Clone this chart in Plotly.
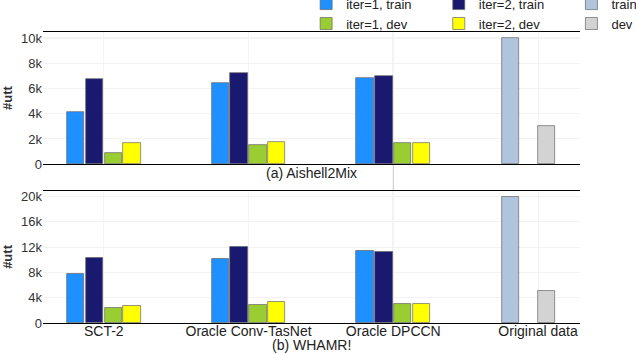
import plotly.graph_objects as go
from plotly.subplots import make_subplots

methods = ["SCT-2", "Oracle Conv-TasNet", "Oracle DPCCN"]
orig_label = ["Original data"]

# (a) Aishell2Mix
a_iter1_train = [4150, 6480, 6880]
a_iter2_train = [6800, 7270, 7000]
a_iter1_dev = [850, 1500, 1640]
a_iter2_dev = [1640, 1770, 1640]
a_orig_train = [10000]
a_orig_dev = [3000]

# (b) WHAMR!
b_iter1_train = [7700, 10170, 11430]
b_iter2_train = [10270, 12070, 11280]
b_iter1_dev = [2370, 2900, 3100]
b_iter2_dev = [2750, 3270, 3100]
b_orig_train = [20000]
b_orig_dev = [5100]

a_ticks = [0, 2000, 4000, 6000, 8000, 10000]
b_ticks = [0, 4000, 8000, 12000, 16000, 20000]

FONT = "Liberation Sans, Arial, sans-serif"
W = 0.12

fig = make_subplots(rows=2, cols=1, shared_xaxes=False, vertical_spacing=0.092)

# name, colour, (a) values, (b) values, categories, bar offset, legend column
series = [
    ("iter=1, train", "#1E90FF", a_iter1_train, b_iter1_train, methods, -0.255, "legend"),
    ("iter=1, dev", "#9ACD32", a_iter1_dev, b_iter1_dev, methods, 0.005, "legend"),
    ("iter=2, train", "#191970", a_iter2_train, b_iter2_train, methods, -0.125, "legend2"),
    ("iter=2, dev", "#FFFF00", a_iter2_dev, b_iter2_dev, methods, 0.135, "legend2"),
    ("train", "#B0C4DE", a_orig_train, b_orig_train, orig_label, -0.25, "legend3"),
    ("dev", "#D3D3D3", a_orig_dev, b_orig_dev, orig_label, 0.0, "legend3"),
]

for name, color, va, vb, cats, off, leg in series:
    for row, vals in ((1, va), (2, vb)):
        fig.add_trace(go.Bar(
            x=cats, y=vals, name=name, legendgroup=name, legend=leg,
            showlegend=(row == 1),
            marker=dict(color=color, line=dict(color="#666", width=0.7)),
            width=W, offset=off,
        ), row=row, col=1)

all_cats = methods + orig_label
for row, ticks, top in ((1, a_ticks, 10500), (2, b_ticks, 20900)):
    fig.update_xaxes(
        type="category", categoryorder="array", categoryarray=all_cats,
        range=[-0.42, 3.29], showline=True, mirror=True, linecolor="black",
        linewidth=1, showgrid=True, gridcolor="#f4f4f4", ticks="",
        showticklabels=(row == 2), tickfont=dict(size=14, color="#222"),
        ticklabelstandoff=-5,
        row=row, col=1)
    fig.update_yaxes(
        range=[0, top], tickvals=ticks, tickformat="~s", showline=False,
        showgrid=True, gridcolor="#f2f2f2", zeroline=False, ticks="",
        tickfont=dict(size=13, color="#333"),
        title=dict(text="<b>#utt</b>", font=dict(size=13, color="#333"), standoff=8),
        row=row, col=1)

# stronger top gridline
fig.add_shape(type="line", xref="x domain", yref="y", x0=0, x1=1,
              y0=a_ticks[-1], y1=a_ticks[-1], line=dict(color="#cfcfcf", width=1), layer="below")
fig.add_shape(type="line", xref="x2 domain", yref="y2", x0=0, x1=1,
              y0=b_ticks[-1], y1=b_ticks[-1], line=dict(color="#e2e2e2", width=1), layer="below")
# vertical grey guide at the DPCCN group
fig.add_shape(type="line", xref="x2", yref="paper", x0=methods[2], x1=methods[2],
              y0=0, y1=1, line=dict(color="#c8c8c8", width=1), layer="below")

fig.add_annotation(text="(a) Aishell2Mix", xref="paper", yref="paper", x=0.5, y=0.546,
                   yshift=-9, showarrow=False, font=dict(size=14, color="#222"))
fig.add_annotation(text="(b) WHAMR!", xref="paper", yref="paper", x=0.5, y=0,
                   yanchor="middle", yshift=-22, showarrow=False, font=dict(size=14, color="#222"))

leg_style = dict(orientation="v", xanchor="left", y=1.149, yanchor="top",
                 font=dict(size=13), bgcolor="rgba(0,0,0,0)", tracegroupgap=0,
                 traceorder="normal", itemwidth=30)

fig.update_layout(
    width=636, height=354,
    margin=dict(l=43, r=56, t=32, b=31, autoexpand=False),
    paper_bgcolor="white", plot_bgcolor="white",
    font=dict(family=FONT, color="#222"),
    bargap=0,
    legend=dict(x=0.49, **leg_style),
    legend2=dict(x=0.737, **leg_style),
    legend3=dict(x=0.984, **leg_style),
)

fig.write_html("out.html", config={"displayModeBar": False},
               post_script="document.body.style.margin='0';")
